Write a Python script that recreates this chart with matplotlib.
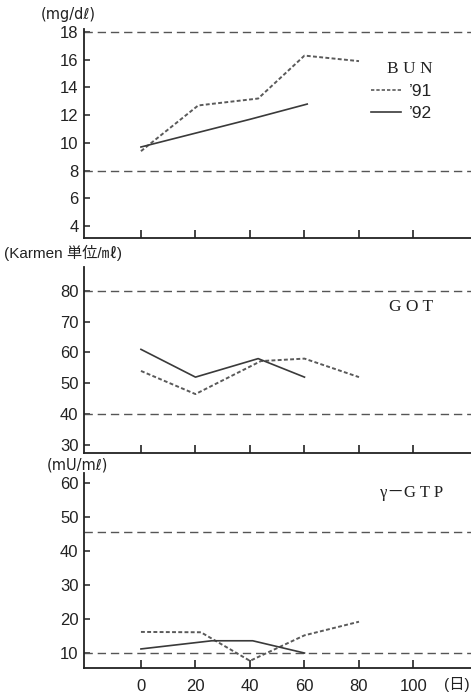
import matplotlib.pyplot as plt
from matplotlib.lines import Line2D

plt.rcParams['font.family'] = ['Liberation Sans', 'Noto Sans CJK JP', 'DejaVu Sans']

# x tick positions (days)
days_ticks = [0, 20, 40, 60, 80, 100]

# BUN (mg/dl)
bun_days_91 = [0, 21, 43, 60, 80]
bun_91 = [9.4, 12.7, 13.2, 16.3, 15.9]
bun_days_92 = [0, 40, 61]
bun_92 = [9.7, 11.7, 12.8]
bun_ref = [8, 18]
bun_yticks = [4, 6, 8, 10, 12, 14, 16, 18]

# GOT (Karmen units)
got_days_91 = [0, 20, 44, 60, 80]
got_91 = [54, 46.5, 57.2, 58, 52]
got_days_92 = [0, 20, 43, 60]
got_92 = [61, 52, 58, 52]
got_ref = [40, 80]
got_yticks = [30, 40, 50, 60, 70, 80]

# gamma-GTP (mU/ml)
gtp_days_91 = [0, 22, 40, 60, 80]
gtp_91 = [16.2, 16.1, 7.7, 15.2, 19.2]
gtp_days_92 = [0, 26, 41, 60]
gtp_92 = [11.2, 13.6, 13.6, 10.0]
gtp_ref = [10, 45.5]
gtp_yticks = [10, 20, 30, 40, 50, 60]

W, H = 471, 693


def box(x0, y0, x1, y1):
    # pixel box -> figure fraction rect
    return [x0 / W, 1 - y1 / H, (x1 - x0) / W, (y1 - y0) / H]


fig = plt.figure(figsize=(W / 100, H / 100), dpi=100)
ax1 = fig.add_axes(box(84, 29, 471, 238))
ax2 = fig.add_axes(box(84, 267, 471, 453))
ax3 = fig.add_axes(box(84, 473, 471, 668))

c91 = "#5a5a5a"
c92 = "#3a3a3a"
cref = "#555555"


def style(ax, ylim, yticks, xlabels):
    ax.set_xlim(-20.9, 121.1)
    ax.set_ylim(*ylim)
    for s in ["top", "right"]:
        ax.spines[s].set_visible(False)
    for s in ["left", "bottom"]:
        ax.spines[s].set_linewidth(1.3)
        ax.spines[s].set_color("#222222")
    ax.set_yticks(yticks)
    ax.set_xticks(days_ticks)
    ax.tick_params(axis="y", direction="in", length=4, width=1.1, pad=4,
                   labelsize=12, colors="#222222")
    ax.tick_params(axis="x", direction="in", length=6, width=1.2, pad=8,
                   labelsize=12, colors="#222222", labelbottom=xlabels)


def plot_panel(ax, d91, v91, d92, v92, ref):
    for r in ref:
        ax.axhline(r, color=cref, lw=1.0, dashes=(6, 3.5))
    ax.plot(d91, v91, color=c91, lw=1.4, dashes=(2.0, 1.2))
    ax.plot(d92, v92, color=c92, lw=1.2)


plot_panel(ax1, bun_days_91, bun_91, bun_days_92, bun_92, bun_ref)
style(ax1, (3.13, 18.22), bun_yticks, False)

plot_panel(ax2, got_days_91, got_91, got_days_92, got_92, got_ref)
style(ax2, (27.4, 87.7), got_yticks, False)

plot_panel(ax3, gtp_days_91, gtp_91, gtp_days_92, gtp_92, gtp_ref)
style(ax3, (5.6, 62.9), gtp_yticks, True)

# legend in BUN panel
handles = [Line2D([], [], color=c91, lw=1.2, dashes=(2.0, 1.2)),
           Line2D([], [], color=c92, lw=1.2)]
leg = ax1.legend(handles, ["\u201991", "\u201992"], loc="upper left",
                 bbox_to_anchor=(287 / 387, 1 - 32 / 209), frameon=False,
                 fontsize=12.5, handlelength=1.7, handletextpad=0.5,
                 labelspacing=0.4, borderaxespad=0, borderpad=0,
                 title="B U N", alignment="right",
                 title_fontproperties={"family": "Liberation Serif", "size": 12.5})
for t in leg.get_texts():
    t.set_color("#222222")
leg.get_title().set_color("#222222")

# panel titles
fig.text(411 / W, 1 - 307 / H, "G O T", family="Liberation Serif", fontsize=12.5,
         ha="center", va="center", color="#222222")
fig.text(412 / W, 1 - 493 / H, "\u03b3\uff0dG T P",
         family=["Liberation Serif", "Noto Sans CJK JP"], fontsize=12,
         ha="center", va="center", color="#222222")

# unit labels
fig.text(68 / W, 1 - 15 / H, "(mg/d\u2113)", fontsize=10.5, ha="center", va="center",
         family=["DejaVu Sans"], color="#222222")
fig.text(4 / W, 1 - 253 / H, "(Karmen \u5358\u4f4d/\u3396)", fontsize=11,
         ha="left", va="center", color="#222222")
fig.text(77 / W, 1 - 465 / H, "(mU/m\u2113)", fontsize=10.5, ha="center", va="center",
         family=["DejaVu Sans"], color="#222222")
fig.text(470 / W, 1 - 685 / H, "(\u65e5)", fontsize=11, ha="right", va="center",
         color="#222222")

fig.savefig("out.png", dpi=100)
